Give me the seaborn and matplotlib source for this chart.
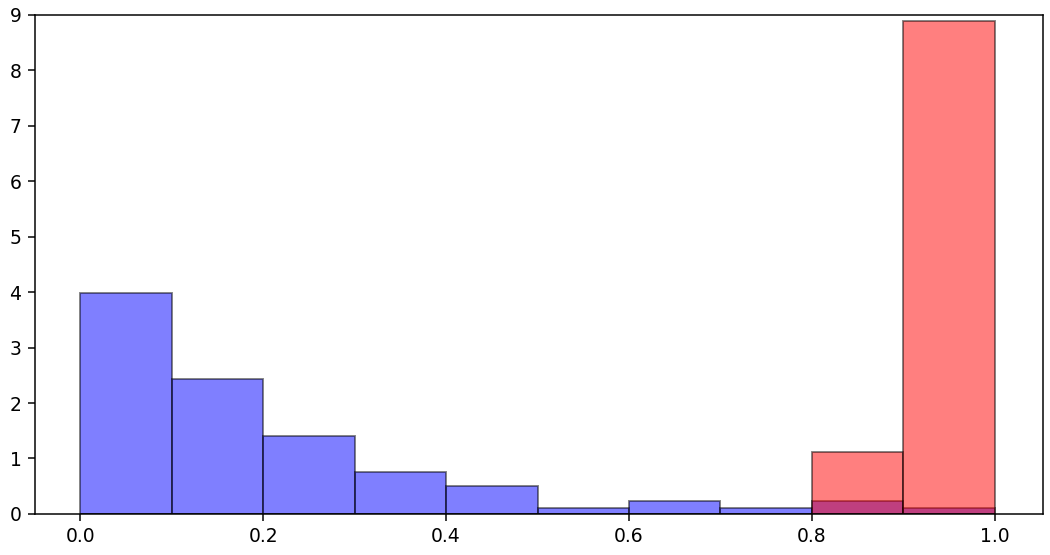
import numpy as np
import matplotlib
matplotlib.use("Agg")
import matplotlib.pyplot as plt
import seaborn as sns

bin_edges = [0.0, 0.1, 0.2, 0.3, 0.4, 0.5, 0.6, 0.7, 0.8, 0.9, 1.0]
bin_centers = [0.05, 0.15, 0.25, 0.35, 0.45, 0.55, 0.65, 0.75, 0.85, 0.95]
blue_density = [3.98, 2.43, 1.40, 0.76, 0.50, 0.11, 0.23, 0.11, 0.23, 0.11]
red_density = [0.0, 0.0, 0.0, 0.0, 0.0, 0.0, 0.0, 0.0, 1.11, 8.89]

s = 1.35
plt.rcParams.update({
    "axes.linewidth": 0.8 * s,
    "xtick.major.size": 3.5 * s,
    "ytick.major.size": 3.5 * s,
    "xtick.major.width": 0.8 * s,
    "ytick.major.width": 0.8 * s,
    "xtick.major.pad": 3.5 * s,
    "ytick.major.pad": 3.5 * s,
})

fig, ax = plt.subplots(figsize=(10.5, 5.55), dpi=100)
sns.histplot(x=bin_centers, weights=blue_density, bins=bin_edges, stat="count",
             color="blue", alpha=0.5, edgecolor=(0, 0, 0, 0.5), linewidth=1.0 * s, ax=ax)
sns.histplot(x=bin_centers, weights=red_density, bins=bin_edges, stat="count",
             color="red", alpha=0.5, edgecolor=(0, 0, 0, 0.5), linewidth=1.0 * s, ax=ax)
ax.set_xlim(-0.05, 1.0525)
ax.set_ylim(0, 9)
ax.set_xlabel("")
ax.set_ylabel("")
ax.tick_params(labelsize=10 * s)
fig.subplots_adjust(left=0.033, right=0.993, top=0.973, bottom=0.074)
fig.savefig("out.png", dpi=100)
